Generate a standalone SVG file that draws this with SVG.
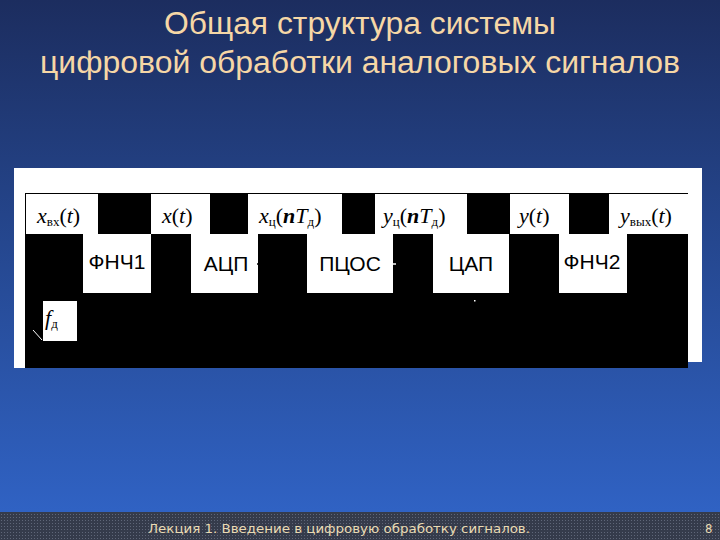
<svg xmlns="http://www.w3.org/2000/svg" width="720" height="540" viewBox="0 0 720 540">
<defs>
<linearGradient id="bg" x1="0" y1="0" x2="0" y2="1">
<stop offset="0" stop-color="#1c2d5f"/>
<stop offset="0.45" stop-color="#25478f"/>
<stop offset="1" stop-color="#3165c9"/>
</linearGradient>
<pattern id="dots" width="3" height="3" patternUnits="userSpaceOnUse">
<rect width="3" height="3" fill="#353b4b"/>
<rect x="1" y="1" width="1" height="1" fill="#5f6678"/>
</pattern>
<style>
.title{font-family:"Liberation Sans",Arial,sans-serif;font-size:31px;fill:#f6d7a6;text-anchor:middle}
.blk{fill:#ffffff}
.blbl{font-family:"Liberation Sans",Arial,sans-serif;font-size:21px;fill:#000;text-anchor:middle}
.math{font-family:"Liberation Serif","Times New Roman",serif;font-size:22px;fill:#000}
.it{font-style:italic}
.sub{font-size:13px;font-style:normal}
.foot{font-family:"DejaVu Sans Condensed","DejaVu Sans",sans-serif;font-size:13px;fill:#eadbb4}
</style>
</defs>
<rect width="720" height="540" fill="url(#bg)"/>
<rect x="0" y="512" width="720" height="28" fill="url(#dots)"/>
<text class="title" x="360" y="34" textLength="392" lengthAdjust="spacingAndGlyphs">Общая структура системы</text>
<text class="title" x="360" y="73" textLength="640" lengthAdjust="spacingAndGlyphs">цифровой обработки аналоговых сигналов</text>

<g id="panel">
<rect x="14" y="168" width="688" height="194" fill="#ffffff"/>
<rect x="14" y="362" width="11" height="6" fill="#ffffff"/>
<rect x="25" y="193" width="663" height="175" fill="#000000"/>
</g>

<g id="lbl-xin"><rect class="blk" x="26" y="194" width="72" height="40"/>
<text class="math" x="37" y="223"><tspan class="it">x</tspan><tspan class="sub" dy="3">вх</tspan><tspan dy="-3">(</tspan><tspan class="it">t</tspan>)</text></g>
<g id="lbl-x"><rect class="blk" x="151" y="194" width="59" height="40"/>
<text class="math" x="162" y="223"><tspan class="it">x</tspan>(<tspan class="it">t</tspan>)</text></g>
<g id="lbl-xc"><rect class="blk" x="248" y="194" width="94" height="40"/>
<text class="math" x="259" y="223"><tspan class="it">x</tspan><tspan class="sub" dy="3">ц</tspan><tspan dy="-3">(</tspan><tspan class="it" font-weight="bold">n</tspan><tspan class="it">T</tspan><tspan class="sub" dy="3">д</tspan><tspan dy="-3">)</tspan></text></g>
<g id="lbl-yc"><rect class="blk" x="375" y="194" width="92" height="40"/>
<text class="math" x="383" y="223"><tspan class="it">y</tspan><tspan class="sub" dy="3">ц</tspan><tspan dy="-3">(</tspan><tspan class="it" font-weight="bold">n</tspan><tspan class="it">T</tspan><tspan class="sub" dy="3">д</tspan><tspan dy="-3">)</tspan></text></g>
<g id="lbl-y"><rect class="blk" x="510" y="194" width="59" height="40"/>
<text class="math" x="519" y="223"><tspan class="it">y</tspan>(<tspan class="it">t</tspan>)</text></g>
<g id="lbl-yout"><rect class="blk" x="609" y="194" width="79" height="40"/>
<text class="math" x="620" y="223"><tspan class="it">y</tspan><tspan class="sub" dy="3">вых</tspan><tspan dy="-3">(</tspan><tspan class="it">t</tspan>)</text></g>

<g id="fnch1"><rect class="blk" x="83" y="234" width="68" height="59"/>
<text class="blbl" x="117" y="269">ФНЧ1</text></g>
<g id="acp"><rect class="blk" x="191" y="234" width="67" height="59"/>
<text class="blbl" x="226" y="271">АЦП</text></g>
<g id="pcos"><rect class="blk" x="307" y="234" width="86" height="59"/>
<text class="blbl" x="350" y="271">ПЦОС</text></g>
<g id="cap"><rect class="blk" x="433" y="234" width="76" height="59"/>
<text class="blbl" x="471" y="271">ЦАП</text></g>
<g id="fnch2"><rect class="blk" x="559" y="234" width="68" height="59"/>
<text class="blbl" x="592" y="269">ФНЧ2</text></g>

<g id="fd"><rect class="blk" x="43" y="301" width="34" height="40"/>
<text class="math" x="45" y="325"><tspan class="it">f</tspan><tspan class="sub" dy="3">д</tspan></text></g>

<g id="connectors" stroke-width="1.5">
<line x1="257" y1="264" x2="260" y2="264" stroke="#000"/>
<line x1="393" y1="264" x2="396" y2="264" stroke="#ffffff"/>
<line x1="33" y1="330" x2="42" y2="340" stroke="#ffffff" stroke-width="1"/>
<rect x="474" y="300" width="1.5" height="1.5" fill="#ffffff" stroke="none"/>
</g>

<text class="foot" x="148" y="533" textLength="382" lengthAdjust="spacingAndGlyphs">Лекция 1. Введение в цифровую обработку сигналов.</text>
<text class="foot" x="705" y="533">8</text>
</svg>
